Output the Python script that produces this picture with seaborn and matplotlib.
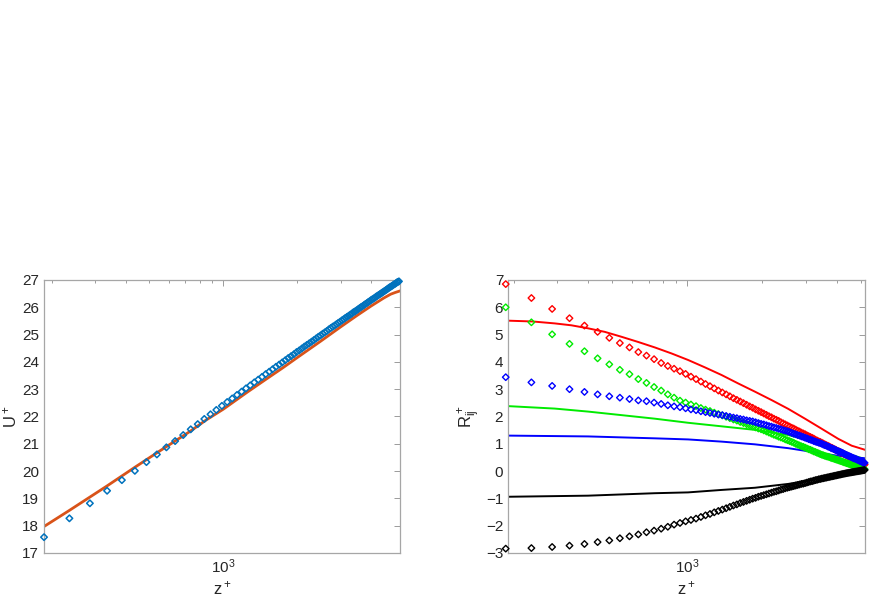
import numpy as np
import matplotlib
matplotlib.use("Agg")
import matplotlib.pyplot as plt
import matplotlib.ticker as mticker
import seaborn as sns

sns.set_style("white")
plt.rcParams['font.family'] = ['Liberation Sans', 'DejaVu Sans']
plt.rcParams['mathtext.fontset'] = 'custom'
plt.rcParams['mathtext.rm'] = 'Liberation Sans'
plt.rcParams['mathtext.it'] = 'Liberation Sans'
plt.rcParams['mathtext.default'] = 'regular'

# ---------------- data ----------------
# wall-normal positions of the DNS samples (step 50 in z+)
z_dns = np.arange(186, 5187, 50)

U_dns = [17.58, 18.27, 18.82, 19.28, 19.67, 20.01, 20.33, 20.61, 20.87, 21.10,
         21.32, 21.53, 21.72, 21.91, 22.08, 22.24, 22.39, 22.53, 22.66, 22.79,
         22.91, 23.03, 23.14, 23.25, 23.35, 23.45, 23.55, 23.64, 23.73, 23.82,
         23.90, 23.98, 24.06, 24.14, 24.21, 24.28, 24.36, 24.42, 24.49, 24.56,
         24.62, 24.68, 24.74, 24.80, 24.86, 24.92, 24.97, 25.03, 25.08, 25.13,
         25.19, 25.24, 25.29, 25.33, 25.38, 25.43, 25.47, 25.52, 25.56, 25.61,
         25.65, 25.69, 25.73, 25.77, 25.82, 25.85, 25.89, 25.93, 25.97, 26.01,
         26.04, 26.08, 26.12, 26.15, 26.19, 26.22, 26.26, 26.29, 26.32, 26.35,
         26.39, 26.42, 26.45, 26.48, 26.51, 26.54, 26.57, 26.60, 26.63, 26.66,
         26.69, 26.72, 26.75, 26.77, 26.80, 26.83, 26.85, 26.88, 26.91, 26.93,
         26.95]

z_model_U = [186, 235, 285, 335, 436, 536, 633, 733, 850, 1000, 1250, 1500,
             1750, 2000, 2500, 3000, 3500, 4000, 4500, 4800, 5000, 5240]
U_model = [17.97, 18.55, 19.04, 19.45, 20.14, 20.67, 21.09, 21.46, 21.87, 22.27,
           22.89, 23.38, 23.79, 24.16, 24.77, 25.28, 25.70, 26.05, 26.34, 26.48,
           26.54, 26.60]

R11_dns = [6.85, 6.34, 5.94, 5.60, 5.33, 5.10, 4.88, 4.69, 4.53, 4.36,
           4.23, 4.10, 3.96, 3.85, 3.75, 3.66, 3.56, 3.46, 3.37, 3.28,
           3.19, 3.11, 3.03, 2.95, 2.88, 2.81, 2.74, 2.67, 2.61, 2.55,
           2.49, 2.43, 2.37, 2.32, 2.26, 2.21, 2.16, 2.11, 2.06, 2.01,
           1.97, 1.92, 1.88, 1.84, 1.79, 1.75, 1.71, 1.67, 1.63, 1.59,
           1.56, 1.52, 1.48, 1.45, 1.41, 1.38, 1.35, 1.31, 1.28, 1.25,
           1.22, 1.19, 1.15, 1.12, 1.09, 1.07, 1.04, 1.01, 0.98, 0.95,
           0.93, 0.90, 0.87, 0.85, 0.82, 0.79, 0.77, 0.74, 0.72, 0.69,
           0.67, 0.65, 0.62, 0.60, 0.58, 0.55, 0.53, 0.51, 0.49, 0.47,
           0.45, 0.42, 0.40, 0.38, 0.36, 0.34, 0.32, 0.30, 0.28, 0.26,
           0.24]

R22_dns = [6.00, 5.45, 5.01, 4.66, 4.39, 4.13, 3.91, 3.71, 3.55, 3.37,
           3.23, 3.08, 2.95, 2.81, 2.69, 2.58, 2.51, 2.44, 2.38, 2.31,
           2.25, 2.20, 2.14, 2.09, 2.04, 1.99, 1.94, 1.89, 1.85, 1.80,
           1.76, 1.72, 1.68, 1.64, 1.60, 1.56, 1.53, 1.49, 1.45, 1.41,
           1.37, 1.33, 1.30, 1.26, 1.23, 1.20, 1.16, 1.13, 1.10, 1.07,
           1.04, 1.00, 0.97, 0.94, 0.91, 0.89, 0.86, 0.83, 0.80, 0.78,
           0.75, 0.72, 0.70, 0.67, 0.65, 0.62, 0.60, 0.58, 0.56, 0.54,
           0.53, 0.51, 0.49, 0.47, 0.46, 0.44, 0.42, 0.41, 0.39, 0.37,
           0.36, 0.34, 0.32, 0.31, 0.29, 0.28, 0.26, 0.25, 0.23, 0.22,
           0.20, 0.19, 0.18, 0.16, 0.15, 0.13, 0.12, 0.11, 0.10, 0.08,
           0.07]

R33_dns = [3.44, 3.25, 3.12, 3.00, 2.90, 2.81, 2.74, 2.69, 2.64, 2.59,
           2.56, 2.51, 2.46, 2.41, 2.37, 2.34, 2.30, 2.26, 2.23, 2.19,
           2.16, 2.13, 2.10, 2.07, 2.05, 2.02, 1.99, 1.96, 1.94, 1.91,
           1.89, 1.86, 1.84, 1.82, 1.79, 1.76, 1.73, 1.71, 1.68, 1.65,
           1.63, 1.60, 1.58, 1.55, 1.53, 1.50, 1.48, 1.46, 1.43, 1.40,
           1.37, 1.35, 1.32, 1.30, 1.27, 1.25, 1.22, 1.20, 1.17, 1.15,
           1.13, 1.10, 1.08, 1.06, 1.04, 1.02, 1.00, 0.97, 0.95, 0.93,
           0.90, 0.88, 0.85, 0.83, 0.81, 0.79, 0.76, 0.74, 0.72, 0.70,
           0.68, 0.66, 0.63, 0.61, 0.59, 0.57, 0.55, 0.53, 0.51, 0.49,
           0.47, 0.46, 0.44, 0.42, 0.40, 0.38, 0.36, 0.35, 0.33, 0.31,
           0.30]

R13_dns = [-2.84, -2.82, -2.78, -2.73, -2.67, -2.60, -2.54, -2.46, -2.39, -2.32,
           -2.24, -2.18, -2.11, -2.04, -1.96, -1.90, -1.84, -1.79, -1.74, -1.68,
           -1.62, -1.57, -1.51, -1.46, -1.41, -1.36, -1.31, -1.26, -1.22, -1.17,
           -1.13, -1.09, -1.05, -1.01, -0.98, -0.94, -0.91, -0.88, -0.85, -0.82,
           -0.79, -0.76, -0.74, -0.71, -0.68, -0.66, -0.63, -0.61, -0.59, -0.57,
           -0.55, -0.53, -0.51, -0.49, -0.47, -0.46, -0.44, -0.42, -0.40, -0.38,
           -0.37, -0.35, -0.33, -0.32, -0.30, -0.29, -0.275, -0.263, -0.251, -0.239,
           -0.227, -0.215, -0.204, -0.192, -0.181, -0.17, -0.159, -0.148, -0.137, -0.127,
           -0.116, -0.106, -0.096, -0.086, -0.077, -0.069, -0.061, -0.053, -0.046, -0.038,
           -0.031, -0.023, -0.016, -0.009, -0.002, 0.006, 0.012, 0.020, 0.027, 0.033,
           0.040]

z_R11_model = [190, 239, 293, 342, 399, 466, 544, 635, 741, 865, 1009, 1179,
               1376, 1606, 1875, 2190, 2553, 2983, 3484, 4063, 4601, 5206]
R11_model = [5.51, 5.48, 5.41, 5.34, 5.23, 5.10, 4.92, 4.73, 4.53, 4.31, 4.07, 3.80,
             3.52, 3.21, 2.91, 2.60, 2.28, 1.92, 1.55, 1.18, 0.93, 0.78]

z_R22_model = [190, 293, 399, 544, 741, 1009, 1376, 1875, 2553, 2983, 3484, 4063, 4745, 5206]
R22_model = [2.38, 2.29, 2.18, 2.05, 1.92, 1.77, 1.64, 1.51, 1.32, 1.16, 0.96, 0.75, 0.55, 0.44]

z_R33_model = [190, 399, 741, 1009, 1376, 1875, 2553, 3484, 4063, 5206]
R33_model = [1.30, 1.27, 1.20, 1.16, 1.08, 0.98, 0.84, 0.65, 0.56, 0.47]

z_R13_model = [190, 399, 741, 1009, 1376, 1875, 2553, 3484, 4063, 5206]
R13_model = [-0.94, -0.90, -0.81, -0.78, -0.69, -0.61, -0.47, -0.26, -0.14, 0.01]

# ---------------- figure ----------------
fig = plt.figure(figsize=(8.75, 6.02), dpi=100)
axL = fig.add_axes([0.0503, 0.0814, 0.4069, 0.4535])
axR = fig.add_axes([0.5806, 0.0814, 0.4080, 0.4535])

mat_blue = (0.0, 0.447, 0.741)
mat_orange = (0.85, 0.325, 0.098)

sns.lineplot(x=z_model_U, y=U_model, ax=axL, color=mat_orange, lw=2.0, zorder=2)
sns.scatterplot(x=z_dns, y=U_dns, ax=axL, marker='D', s=11, facecolors='none',
                edgecolors=mat_blue, linewidth=1.1, zorder=3, clip_on=False)

green = (0.0, 0.92, 0.0)
models = [(z_R11_model, R11_model, 'red'), (z_R22_model, R22_model, green),
          (z_R33_model, R33_model, 'blue'), (z_R13_model, R13_model, 'black')]
for zm, model, c in models:
    sns.lineplot(x=zm, y=model, ax=axR, color=c, lw=1.4, zorder=2)
for dns, c in [(R11_dns, 'red'), (R22_dns, green), (R33_dns, 'blue'), (R13_dns, 'black')]:
    sns.scatterplot(x=z_dns, y=dns, ax=axR, marker='D', s=11, facecolors='none',
                    edgecolors=c, linewidth=1.0, zorder=3, clip_on=False)

for ax, ylim, ylab, xl in [(axL, (17, 27), 'U$^+$', (186, 5240)),
                           (axR, (-3, 7), 'R$^+_{ij}$', (190, 5205))]:
    ax.set_xscale('log')
    ax.set_xlim(*xl)
    ax.set_ylim(*ylim)
    ax.set_yticks(np.arange(ylim[0], ylim[1] + 1, 1))
    ax.xaxis.set_major_locator(mticker.LogLocator(base=10))
    ax.xaxis.set_minor_locator(mticker.LogLocator(base=10, subs=np.arange(2, 10)))
    ax.xaxis.set_minor_formatter(mticker.NullFormatter())
    ax.tick_params(axis='both', which='both', direction='in', top=True, right=True,
                   colors='0.15', labelsize=11)
    ax.tick_params(which='major', length=4, width=0.6, color='0.55')
    ax.tick_params(which='minor', length=2.5, width=0.6, color='0.55')
    for sp in ax.spines.values():
        sp.set_color('0.65')
        sp.set_linewidth(0.9)
    ax.set_xlabel('z$^+$', fontsize=12, color='0.15', labelpad=2)
    ax.set_ylabel(ylab, fontsize=12, color='0.15', labelpad=2)

fig.savefig('out.png', dpi=100, facecolor='white')
